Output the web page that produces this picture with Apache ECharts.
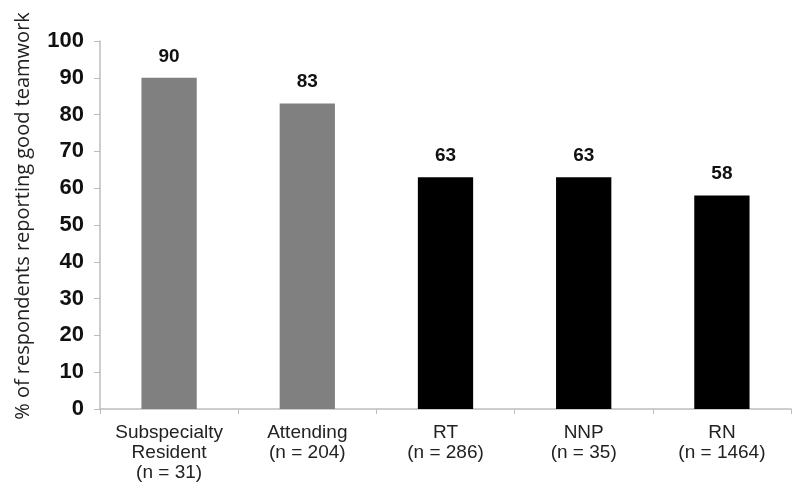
<!DOCTYPE html>
<html>
<head>
<meta charset="utf-8">
<script src="https://cdn.jsdelivr.net/npm/echarts@6/dist/echarts.min.js"></script>
<style>
  html, body { margin: 0; padding: 0; background: #fff; }
  #main { width: 800px; height: 491px; }
</style>
</head>
<body>
<div id="main"></div>
<script>
var categories = ['Subspecialty\nResident\n(n = 31)', 'Attending\n(n = 204)', 'RT\n(n = 286)', 'NNP\n(n = 35)', 'RN\n(n = 1464)'];
var values = [90, 83, 63, 63, 58];
var barColors = ['#808080', '#808080', '#000000', '#000000', '#000000'];

var myChart = echarts.init(document.getElementById('main'));
var option = {
    animation: false,
    grid: {
        left: 100,
        right: 9,
        top: 41,
        bottom: 82
    },
    xAxis: {
        type: 'category',
        data: categories,
        axisLine: { lineStyle: { color: '#bdbdbd', width: 1.5 } },
        axisTick: { show: true, length: 5, lineStyle: { color: '#bdbdbd' } },
        axisLabel: {
            color: '#222',
            fontFamily: 'Liberation Sans, Arial',
            fontSize: 19,
            lineHeight: 20,
            margin: 14,
            interval: 0
        }
    },
    yAxis: {
        type: 'value',
        min: 0,
        max: 100,
        interval: 10,
        name: '% of respondents reporting good teamwork',
        nameLocation: 'middle',
        nameGap: 67,
        nameTextStyle: {
            color: '#222',
            fontFamily: 'Open Sans',
            fontSize: 20,
            padding: [0, 0, 0, 18]
        },
        splitLine: { show: false },
        axisLine: { show: true, lineStyle: { color: '#bdbdbd', width: 1.5 } },
        axisTick: { show: true, length: 6, lineStyle: { color: '#bdbdbd' } },
        axisLabel: {
            color: '#111',
            fontFamily: 'Liberation Sans, Arial',
            fontWeight: 'bold',
            fontSize: 22,
            margin: 16
        }
    },
    series: [{
        type: 'bar',
        barWidth: '40%',
        data: values.map(function (v, i) {
            return { value: v, itemStyle: { color: barColors[i] } };
        }),
        label: {
            show: true,
            position: 'top',
            distance: 12,
            color: '#111',
            fontFamily: 'Liberation Sans, Arial',
            fontWeight: 'bold',
            fontSize: 19
        }
    }]
};
myChart.setOption(option);
</script>
</body>
</html>
